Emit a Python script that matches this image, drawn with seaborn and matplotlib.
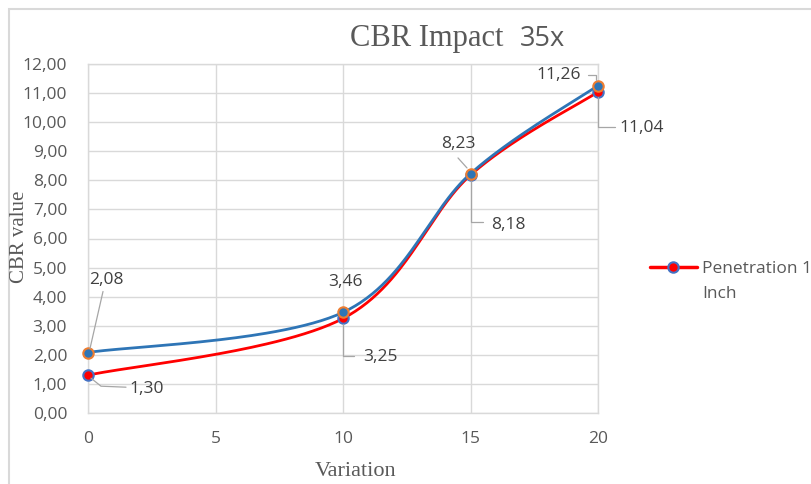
import numpy as np
import pandas as pd
import matplotlib
matplotlib.use("Agg")
import matplotlib.pyplot as plt
import seaborn as sns
from matplotlib.lines import Line2D
from matplotlib.patches import Rectangle

# ---------------- data ----------------
variation = [0, 10, 15, 20]
cbr_blue = [2.08, 3.46, 8.23, 11.26]
cbr_red = [1.30, 3.25, 8.18, 11.04]
legend_label_1 = "Penetration 1"
legend_label_2 = "Inch"
title_main = "CBR Impact"
title_suffix = "35x"
x_label = "Variation"
y_label = "CBR value"
x_ticks = [0, 5, 10, 15, 20]
y_ticks = [0, 1, 2, 3, 4, 5, 6, 7, 8, 9, 10, 11, 12]

# ---------------- style ----------------
sns.set_style("white")
plt.rcParams["font.family"] = ["Open Sans", "DejaVu Sans"]

RED = "#FF0000"
BLUE = "#2E75B6"
ORANGE = "#ED7D31"
MBLUE = "#4472C4"
GRID = "#D9D9D9"
TXT = "#595959"
LBL = "#404040"
LEAD = "#A6A6A6"
SERIF = ["Liberation Serif", "DejaVu Serif"]


def smooth(x, y, n=60):
    """Excel-like smoothed line (Catmull-Rom Bezier) through the data points."""
    P = np.column_stack([x, y]).astype(float)
    ext = np.vstack([P[0], P, P[-1]])
    out = []
    t = np.linspace(0, 1, n)[:, None]
    for i in range(len(P) - 1):
        p0, p1, p2, p3 = ext[i], ext[i + 1], ext[i + 2], ext[i + 3]
        c1 = p1 + (p2 - p0) / 6
        c2 = p2 - (p3 - p1) / 6
        seg = (1 - t) ** 3 * p1 + 3 * (1 - t) ** 2 * t * c1 + 3 * (1 - t) * t ** 2 * c2 + t ** 3 * p2
        out.append(seg if i == 0 else seg[1:])
    return np.vstack(out)


W, H = 811, 484
fig = plt.figure(figsize=(W / 100, H / 100), dpi=100)
ax = fig.add_axes([88 / W, 1 - 413 / H, 510 / W, 349 / H])

df = pd.DataFrame({"variation": variation, "blue": cbr_blue, "red": cbr_red})

# smoothed curves
for col, color in (("red", RED), ("blue", BLUE)):
    s = smooth(df["variation"], df[col])
    sns.lineplot(x=s[:, 0], y=s[:, 1], sort=False, estimator=None, color=color,
                 lw=2.0, ax=ax, zorder=3, legend=False)

# markers
ax.plot(df["variation"], df["red"], ls="none", marker="o", ms=7.5, mfc=RED,
        mec=MBLUE, mew=1.5, zorder=4, clip_on=False)
ax.plot(df["variation"], df["blue"], ls="none", marker="o", ms=7.5, mfc=BLUE,
        mec=ORANGE, mew=1.5, zorder=5, clip_on=False)

ax.set_xlim(0, 20)
ax.set_ylim(0, 12)
ax.set_xticks(x_ticks)
ax.set_yticks(y_ticks)
ax.set_xticklabels([str(v) for v in x_ticks])
ax.set_yticklabels([f"{v:.2f}".replace(".", ",") for v in y_ticks])
ax.tick_params(length=0, labelsize=12.5, colors=TXT)
ax.tick_params(axis="y", pad=15)
ax.tick_params(axis="x", pad=13)
ax.grid(True, color=GRID, lw=1)
for sp in ax.spines.values():
    sp.set_color(GRID)
    sp.set_linewidth(1)
ax.set_xlabel("")
ax.set_ylabel("")

fig.canvas.draw()


def fmt(v):
    return f"{v:.2f}".replace(".", ",")


def label(x, y, v, text_off, lead):
    px, py = ax.transData.transform((x, y))
    ax.annotate(fmt(v), xy=(x, y), xytext=text_off, textcoords="offset pixels",
                ha="center", va="center", fontsize=12.5, color=LBL, zorder=6)
    if lead:
        vx = [px + dx for dx, dy in lead]
        vy = [py + dy for dx, dy in lead]
        fig.add_artist(Line2D(vx, vy, transform=None, color=LEAD, lw=0.9, zorder=2))


# (text offset in px, leader vertices in px offsets), y up
label(variation[0], cbr_blue[0], cbr_blue[0], (18, 73), [(2, 4), (15, 61)])
label(variation[0], cbr_red[0], cbr_red[0], (59, -14), [(3, -3), (13, -11), (38, -12)])
label(variation[1], cbr_blue[1], cbr_blue[1], (2, 30), None)
label(variation[1], cbr_red[1], cbr_red[1], (37, -39), [(0, -6), (0, -37.5), (11, -37.5)])
label(variation[2], cbr_blue[2], cbr_blue[2], (-12, 30), [(-3.5, 5.7), (-12.5, 15.7)])
label(variation[2], cbr_red[2], cbr_red[2], (38, -50), [(0.5, -6), (0.5, -47), (12.5, -47)])
label(variation[3], cbr_blue[3], cbr_blue[3], (-39, 11), [(-10, 10.6), (-2, 10.6), (-2, 5.6)])
label(variation[3], cbr_red[3], cbr_red[3], (44, -36), [(0, -5), (0, -35), (17, -35)])

# title
fig.text(350 / W, 1 - 46 / H, title_main, family=SERIF, fontsize=22, color=TXT,
         ha="left", va="baseline")
fig.text(520 / W, 1 - 46 / H, title_suffix, fontsize=19.5, color=TXT,
         ha="left", va="baseline")

# axis labels
fig.text(20 / W, 1 - 237 / H, y_label, family=SERIF, fontsize=15, color=TXT,
         rotation=90, ha="center", va="center")
fig.text(356 / W, 1 - 471 / H, x_label, family=SERIF, fontsize=16, color=TXT,
         ha="center", va="center")

# legend
handle = Line2D([], [], color=RED, lw=2.5, marker="o", ms=7.5, mfc=RED, mec=MBLUE, mew=1.5)
fig.legend(handles=[handle], labels=[legend_label_1], loc="center left",
           bbox_to_anchor=(650 / W, 1 - 269 / H), frameon=False, fontsize=12.5,
           labelcolor=TXT, handlelength=2.7, handletextpad=0.3, borderpad=0,
           borderaxespad=0)
fig.text(702 / W, 1 - 294 / H, legend_label_2, fontsize=12.5, color=TXT,
         ha="left", va="center")

# chart-area border
fig.patches.append(Rectangle((9 / W, -0.1), 1.2, 1.1 - 9 / H, transform=fig.transFigure,
                             fill=False, ec=GRID, lw=1.5))

fig.savefig("out.png", dpi=100)
